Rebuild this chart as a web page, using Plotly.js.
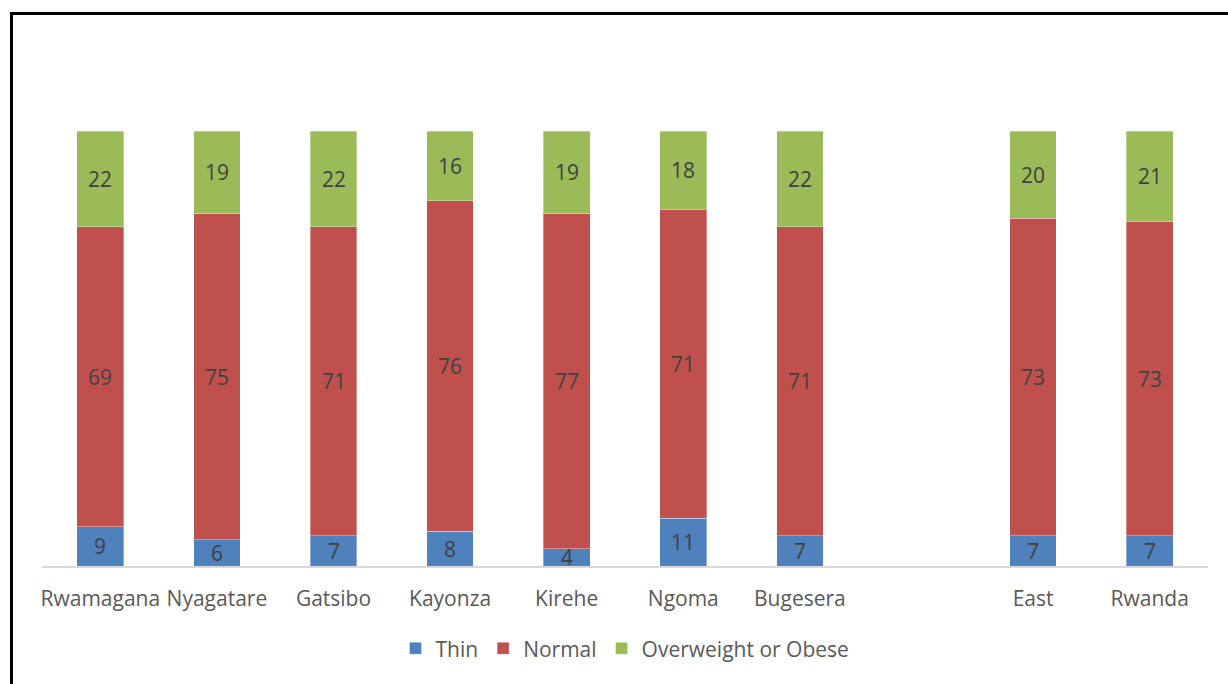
<!DOCTYPE html>
<html>
<head>
<meta charset="utf-8">
<script src="https://cdn.plot.ly/plotly-3.0.1.min.js"></script>
<style>
  html, body { margin: 0; padding: 0; background: #fff; }
  #wrap { position: relative; width: 1228px; height: 684px; overflow: hidden; }
  #frame { position: absolute; left: 10px; top: 12px; width: 1240px; height: 700px;
           border-left: 3px solid #000; border-top: 3px solid #000; box-sizing: border-box; pointer-events: none; z-index: 5; }
  #chart { position: absolute; left: 0; top: 0; width: 1228px; height: 684px; }
</style>
</head>
<body>
<div id="wrap">
  <div id="chart"></div>
  <div id="frame"></div>
</div>
<script>
const categories = ["Rwamagana", "Nyagatare", "Gatsibo", "Kayonza", "Kirehe", "Ngoma", "Bugesera", " ", "East", "Rwanda"];
const thin       = [9, 6, 7, 8, 4, 11, 7, null, 7, 7];
const normal     = [69, 75, 71, 76, 77, 71, 71, null, 73, 73];
const overweight = [22, 19, 22, 16, 19, 18, 22, null, 20, 21];

const seriesNames  = ["Thin", "Normal", "Overweight or Obese"];
const seriesColors = ["#4F81BD", "#C0504D", "#9BBB59"];
const seriesData   = [thin, normal, overweight];

const FONT = "'Open Sans', 'Noto Sans', sans-serif";

const traces = seriesData.map((vals, i) => ({
  type: "bar",
  name: seriesNames[i],
  x: categories,
  y: vals,
  marker: { color: seriesColors[i], line: { color: "rgba(255,255,255,0.35)", width: 1 } },
  hoverinfo: "skip"
}));

// data labels centred in each (normalised) segment
const annotations = [];
categories.forEach((c, j) => {
  const vals = seriesData.map(s => s[j]);
  if (vals.some(v => v == null)) return;
  const total = vals.reduce((a, b) => a + b, 0);
  let cum = 0;
  vals.forEach((v, i) => {
    const lo = cum / total * 100;
    cum += v;
    const hi = cum / total * 100;
    annotations.push({
      x: c, y: (lo + hi) / 2, xref: "x", yref: "y",
      text: String(v), showarrow: false,
      font: { family: FONT, size: 21, color: "#404040" }
    });
  });
});

const layout = {
  width: 1228, height: 684,
  barmode: "stack",
  barnorm: "percent",
  bargap: 0.6,
  margin: { l: 42, r: 20, t: 131, b: 118 },
  paper_bgcolor: "#fff",
  plot_bgcolor: "#fff",
  font: { family: FONT, color: "#595959", size: 21 },
  xaxis: {
    type: "category",
    showline: true, linecolor: "#D9D9D9", linewidth: 1.5,
    showgrid: false, ticks: "", tickfont: { family: FONT, size: 21, color: "#595959" },
    ticklabelstandoff: 13
  },
  yaxis: { range: [0, 100], visible: false, showgrid: false, zeroline: false },
  showlegend: true,
  legend: {
    orientation: "h", x: 0.5, xanchor: "center", y: -0.19, yanchor: "middle",
    font: { family: FONT, size: 21, color: "#595959" },
    itemwidth: 30, traceorder: "normal"
  },
  annotations: annotations
};

Plotly.newPlot("chart", traces, layout, { displayModeBar: false, staticPlot: true });
</script>
</body>
</html>
